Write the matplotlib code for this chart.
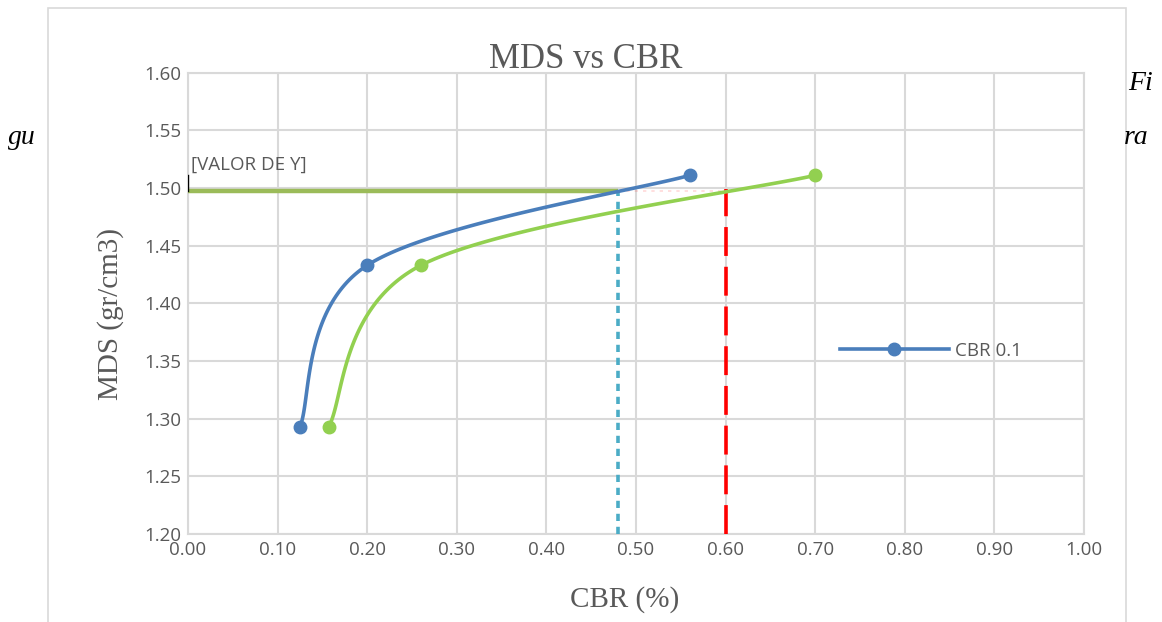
import numpy as np
import matplotlib
matplotlib.use("Agg")
import matplotlib.pyplot as plt
from matplotlib.patches import Rectangle

# data
cbr_a = [0.125, 0.20, 0.56]
cbr_b = [0.157, 0.26, 0.70]
mds = [1.293, 1.433, 1.511]
mds_design = 1.497
cbr_read = 0.48
cbr_limit = 0.60
xticks = [0.0, 0.1, 0.2, 0.3, 0.4, 0.5, 0.6, 0.7, 0.8, 0.9, 1.0]
yticks = [1.20, 1.25, 1.30, 1.35, 1.40, 1.45, 1.50, 1.55, 1.60]

W, H = 1162, 622
gray = "#595959"
grid = "#D9D9D9"
tickfont = "Open Sans"
serif = "Liberation Serif"


def smooth(xs, ys, sx, sy, n=60):
    # excel style smoothed line: bezier with 1/6 tangents, in pixel space
    p = np.column_stack([np.array(xs) * sx, np.array(ys) * sy])
    k = len(p)
    ext = np.vstack([p[0], p, p[-1]])
    out = []
    s = np.linspace(0, 1, n)[:, None]
    for i in range(k - 1):
        c0 = p[i]
        c3 = p[i + 1]
        c1 = c0 + (ext[i + 2] - ext[i]) / 6
        c2 = c3 - (ext[i + 3] - ext[i + 1]) / 6
        seg = ((1 - s) ** 3) * c0 + 3 * ((1 - s) ** 2) * s * c1 + 3 * (1 - s) * s ** 2 * c2 + s ** 3 * c3
        out.append(seg if i == 0 else seg[1:])
    out = np.vstack(out)
    return out[:, 0] / sx, out[:, 1] / sy


fig = plt.figure(figsize=(W / 100, H / 100), dpi=100)
ax = fig.add_axes([188 / W, 1 - 534 / H, (1084 - 188) / W, (534 - 72.7) / H])
ax.set_xlim(0, 1)
ax.set_ylim(1.2, 1.6)

# outer frame of the chart object
fig.patches.append(Rectangle((48 / W, -0.1), (1126 - 48) / W, 1.1 - 8 / H,
                             transform=fig.transFigure, fill=False,
                             edgecolor=grid, lw=1.2))

sx = (1084 - 188) / 1.0
sy = (534 - 72.7) / 0.4

bx, by = smooth(cbr_a, mds, sx, sy)
gx, gy = smooth(cbr_b, mds, sx, sy)

ax.plot([0, cbr_read], [mds_design, mds_design], color="#9BBB59", lw=3.2, zorder=3, solid_capstyle="butt")
ax.plot([cbr_read, cbr_limit], [mds_design, mds_design], color="#FF0000", lw=1.2, alpha=0.15,
        dashes=(2, 3), zorder=2)
ax.plot([cbr_read, cbr_read], [1.2, mds_design], color="#4BACC6", lw=2.6, dashes=(2, 1.6), zorder=3)
ax.plot([cbr_limit, cbr_limit], [1.2, 1.4995], color="#FF0000", lw=2.6, dashes=(8, 3), zorder=3)

ax.plot(bx, by, color="#4A7EBB", lw=2.6, zorder=4)
ax.plot(gx, gy, color="#92D050", lw=2.6, zorder=4)
ax.plot(cbr_a, mds, "o", color="#4A7EBB", ms=9, zorder=5)
ax.plot(cbr_b, mds, "o", color="#92D050", ms=9, zorder=5)

# legend entry
ax.plot([], [], color="#4A7EBB", lw=2.6, marker="o", ms=9, label="CBR 0.1")
leg = ax.legend(loc="center left", bbox_to_anchor=((840 - 188) / 896, 1 - (351 - 72.7) / 461.3),
                frameon=False, borderpad=0, borderaxespad=0, handlelength=5.8,
                handletextpad=0.35, prop={"family": tickfont, "size": 13.5})
for t in leg.get_texts():
    t.set_color(gray)

# data label
ax.plot([0, 0], [mds_design, 1.511], color="black", lw=1, zorder=6)
ax.text(0.003, 1.52, "[VALOR DE Y]", family=tickfont, fontsize=13.5, color=gray,
        ha="left", va="center", zorder=6)

ax.set_xticks(xticks)
ax.set_yticks(yticks)
ax.set_xticklabels(["%.2f" % v for v in xticks], family=tickfont, fontsize=13.5, color=gray)
ax.set_yticklabels(["%.2f" % v for v in yticks], family=tickfont, fontsize=13.5, color=gray)
ax.tick_params(length=0, pad=5)
ax.grid(True, color=grid, lw=1.5)
ax.set_axisbelow(True)
for s in ax.spines.values():
    s.set_color(grid)
    s.set_linewidth(1.5)

fig.text(586 / W, 1 - 60 / H, "MDS vs CBR", family=serif, fontsize=25, color=gray,
         ha="center", va="center")
fig.text(625 / W, 1 - 600 / H, "CBR (%)", family=serif, fontsize=21, color=gray,
         ha="center", va="center")
fig.text(111 / W, 1 - 314 / H, "MDS (gr/cm3)", family=serif, fontsize=21, color=gray,
         ha="center", va="center", rotation=90)

# surrounding document text
fig.text(1128 / W, 1 - 83 / H, "Fi", family=serif, style="italic", fontsize=20, color="black",
         ha="left", va="center")
fig.text(8 / W, 1 - 138 / H, "gu", family=serif, style="italic", fontsize=20, color="black",
         ha="left", va="center")
fig.text(1124 / W, 1 - 138 / H, "ra", family=serif, style="italic", fontsize=20, color="black",
         ha="left", va="center")

fig.savefig("out.png", dpi=100)
